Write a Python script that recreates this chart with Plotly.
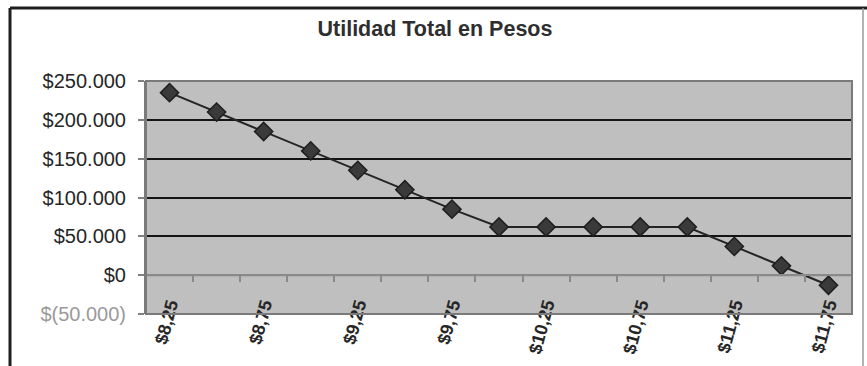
import plotly.graph_objects as go

# Data
prices = [8.25, 8.50, 8.75, 9.00, 9.25, 9.50, 9.75, 10.00, 10.25, 10.50, 10.75, 11.00, 11.25, 11.50, 11.75]
utilidad = [235000, 210000, 185000, 160000, 135000, 110000, 85000, 62000, 62000, 62000, 62000, 62000, 37000, 12000, -13000]

x_label_vals = [8.25, 8.75, 9.25, 9.75, 10.25, 10.75, 11.25, 11.75]
x_label_text = ["$8,25", "$8,75", "$9,25", "$9,75", "$10,25", "$10,75", "$11,25", "$11,75"]
x_boundary_ticks = [8.375, 8.625, 8.875, 9.125, 9.375, 9.625, 9.875, 10.125,
                    10.375, 10.625, 10.875, 11.125, 11.375, 11.625]

y_tick_vals = [-50000, 0, 50000, 100000, 150000, 200000, 250000]
y_tick_text = ["<span style='color:#9a9a9a'>$(50.000)</span>", "$0", "$50.000",
               "$100.000", "$150.000", "$200.000", "$250.000"]

title_text = "Utilidad Total en Pesos"

W, H = 867, 366
L, R, T, B = 146, 15, 81, 52
pw = W - L - R
ph = H - T - B


def px_x(px):
    return (px - L) / pw


def px_y(py):
    return (H - B - py) / ph


fig = go.Figure()
fig.add_trace(go.Scatter(
    x=prices, y=utilidad, mode="lines+markers",
    line=dict(color="#242424", width=2),
    marker=dict(symbol="diamond", size=14, color="#3a3a3a",
                line=dict(color="#1e1e1e", width=1.5)),
    showlegend=False, hoverinfo="x+y",
))

fig.update_layout(
    width=W, height=H,
    margin=dict(l=L, r=R, t=T, b=B, pad=0, autoexpand=False),
    paper_bgcolor="white",
    plot_bgcolor="#bfbfbf",
    font=dict(family="Liberation Sans, Arial, sans-serif", color="#262626"),
    title=dict(text="<b>" + title_text + "</b>", x=435 / W, xanchor="center",
               y=1 - 28 / H, yanchor="middle", yref="container",
               font=dict(size=21.5, color="#2e2e2e")),
    xaxis=dict(
        range=[8.125, 11.875], automargin=False,
        anchor="free", position=1 / 6,
        tickmode="array", tickvals=x_label_vals,
        ticktext=["<b>" + t + "</b>" for t in x_label_text],
        ticks="", tickangle=-75,
        tickfont=dict(size=18, color="#262626", family="Liberation Sans, Arial, sans-serif"),
        ticklabelstandoff=11,
        showgrid=False, zeroline=False,
        showline=True, linecolor="#8a8a8a", linewidth=2,
        minor=dict(tickmode="array", tickvals=x_boundary_ticks, ticks="outside",
                   ticklen=6, tickcolor="#8a8a8a", tickwidth=1.5, showgrid=False),
    ),
    yaxis=dict(
        range=[-50000, 250000], automargin=False,
        tickmode="array", tickvals=y_tick_vals, ticktext=y_tick_text,
        ticks="outside", ticklen=6, tickcolor="#808080", tickwidth=1.5,
        tickfont=dict(size=20, color="#262626"),
        showgrid=True, gridcolor="#141414", gridwidth=2,
        zeroline=False,
        showline=True, linecolor="#7a7a7a", linewidth=2,
        ticklabelstandoff=8,
    ),
)

# plot area border
fig.add_shape(type="rect", xref="x domain", yref="y domain", x0=0, x1=1, y0=0, y1=1,
              line=dict(color="#7a7a7a", width=2), layer="above")
# x axis line at zero
fig.add_shape(type="line", xref="x domain", yref="y", x0=0, x1=1, y0=0, y1=0,
              line=dict(color="#8a8a8a", width=2), layer="below")

# outer chart frame
fig.add_shape(type="line", xref="paper", yref="paper",
              x0=px_x(10), x1=px_x(W + 2), y0=px_y(8), y1=px_y(8),
              line=dict(color="#1e1e1e", width=3))
fig.add_shape(type="line", xref="paper", yref="paper",
              x0=px_x(10), x1=px_x(10), y0=px_y(8), y1=px_y(H + 2),
              line=dict(color="#1e1e1e", width=3))
fig.add_shape(type="line", xref="paper", yref="paper",
              x0=px_x(863), x1=px_x(863), y0=px_y(8), y1=px_y(H + 2),
              line=dict(color="#9a9a9a", width=1.5))

fig.write_html("out.html", config={"displayModeBar": False},
               post_script="document.body.style.margin='0';document.body.style.overflow='hidden';")
